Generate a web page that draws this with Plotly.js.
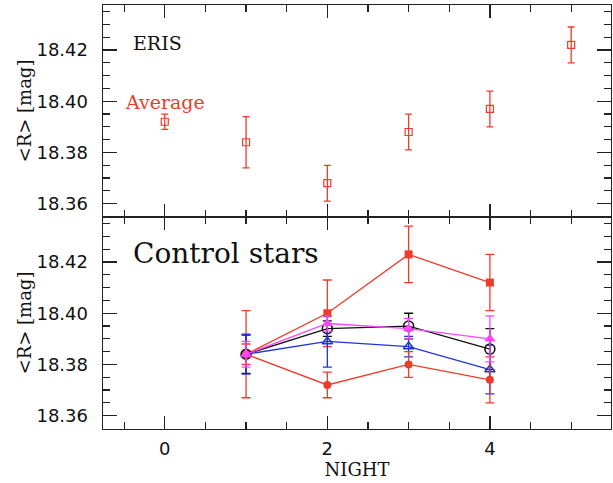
<!DOCTYPE html>
<html>
<head>
<meta charset="utf-8">
<script src="https://cdn.plot.ly/plotly-3.0.1.min.js"></script>
<style>html,body{margin:0;padding:0;background:#fff;}#chart{width:613px;height:483px;}</style>
</head>
<body>
<div id="chart"></div>
<script>
// ERIS average (top panel)
const erisNight = [0, 1, 2, 3, 4, 5];
const erisMag   = [18.392, 18.384, 18.368, 18.388, 18.397, 18.422];
const erisErr   = [0.003, 0.010, 0.007, 0.007, 0.007, 0.007];

// Control stars (bottom panel)
const ctrlNight = [1, 2, 3, 4];
const starRedSq    = [18.384, 18.400, 18.423, 18.412];
const starRedSqErr = [0.017, 0.013, 0.011, 0.011];
const starRedCi    = [18.384, 18.372, 18.380, 18.374];
const starRedCiErr = [0.004, 0.005, 0.005, 0.009];
const starBlack    = [18.384, 18.394, 18.395, 18.386];
const starBlackErr = [0.0075, 0.003, 0.005, 0.008];
const starMag      = [18.384, 18.396, 18.394, 18.390];
const starMagErr   = [0.005, 0.003, 0.004, 0.009];
const starBlue     = [18.384, 18.389, 18.387, 18.378];
const starBlueErr  = [0.0078, 0.010, 0.004, 0.0095];

const RED = '#ee3b2b', BLUE = '#2233dd', MAG = '#ff44ff', BLK = '#111111';

function star(y, err, color, symbol, size, lw) {
  return {
    x: ctrlNight, y: y, xaxis: 'x2', yaxis: 'y2', type: 'scatter', mode: 'lines+markers',
    line: {color: color, width: 1.3},
    marker: {color: color, symbol: symbol, size: size, line: {color: color, width: lw || 0}},
    error_y: {type: 'data', array: err, visible: true, color: color, thickness: 1.3, width: 4.5},
    showlegend: false, hoverinfo: 'skip'
  };
}

const traces = [
  {
    x: erisNight, y: erisMag, xaxis: 'x', yaxis: 'y', type: 'scatter', mode: 'markers',
    marker: {symbol: 'square-open', size: 7, color: RED, line: {color: RED, width: 1.2}},
    error_y: {type: 'data', array: erisErr, visible: true, color: RED, thickness: 1.3, width: 3.5},
    showlegend: false, hoverinfo: 'skip'
  },
  star(starRedSq, starRedSqErr, RED, 'square', 8),
  star(starBlack, starBlackErr, BLK, 'circle-open', 10, 1.5),
  star(starBlue, starBlueErr, BLUE, 'triangle-up-open', 9, 1.5),
  star(starRedCi, starRedCiErr, RED, 'circle', 8),
  star(starMag, starMagErr, MAG, 'triangle-up', 10)
];

const tickFont = {family: 'DejaVu Sans', size: 18, color: '#111'};
const serif = 'DejaVu Serif, Liberation Serif, serif';

function xax(showLabels, anchor) {
  return {
    anchor: anchor, range: [-0.76, 5.49], domain: [0, 1],
    tickmode: 'linear', tick0: 0, dtick: 2,
    ticks: 'inside', ticklen: 13, tickwidth: 1.3, tickcolor: '#222',
    minor: {dtick: 0.5, ticks: 'inside', ticklen: 7, tickwidth: 1.2, tickcolor: '#222'},
    showline: true, linecolor: '#222', linewidth: 1.4, mirror: 'allticks',
    showgrid: false, zeroline: false,
    showticklabels: showLabels, tickfont: tickFont, ticklabelstandoff: 3
  };
}
function yax(domain, anchor) {
  return {
    anchor: anchor, domain: domain, range: [18.3548, 18.4376],
    tickmode: 'linear', tick0: 18.36, dtick: 0.02, tickformat: '.2f',
    ticks: 'inside', ticklen: 14, tickwidth: 1.3, tickcolor: '#222',
    minor: {dtick: 0.005, ticks: 'inside', ticklen: 7, tickwidth: 1.2, tickcolor: '#222'},
    showline: true, linecolor: '#222', linewidth: 1.4, mirror: 'allticks',
    showgrid: false, zeroline: false,
    tickfont: tickFont, ticklabelstandoff: 10,
    title: {text: '&lt;R&gt; [mag]', font: {family: serif, size: 18, color: '#111'}, standoff: 0}
  };
}

const layout = {
  width: 613, height: 483,
  margin: {l: 103, r: 2, t: 5, b: 54},
  paper_bgcolor: '#fff', plot_bgcolor: '#fff',
  xaxis: xax(false, 'y'),
  yaxis: yax([0.5, 1], 'x'),
  xaxis2: Object.assign(xax(true, 'y2'), {
    title: {text: 'NIGHT', font: {family: serif, size: 18, color: '#111'}, standoff: 4}
  }),
  yaxis2: yax([0, 0.5], 'x2'),
  annotations: [
    {text: 'ERIS', xref: 'x', yref: 'y', x: -0.41, y: 18.4227, xanchor: 'left', yanchor: 'middle',
     showarrow: false, font: {family: serif, size: 19, color: '#111'}},
    {text: 'Average', xref: 'x', yref: 'y', x: -0.52, y: 18.3996, xanchor: 'left', yanchor: 'middle',
     showarrow: false, font: {family: serif, size: 19, color: RED}},
    {text: 'Control stars', xref: 'x2', yref: 'y2', x: -0.41, y: 18.4234, xanchor: 'left', yanchor: 'middle',
     showarrow: false, font: {family: serif, size: 28, color: '#111'}}
  ]
};

Plotly.newPlot('chart', traces, layout, {staticPlot: true, displayModeBar: false});
</script>
</body>
</html>
